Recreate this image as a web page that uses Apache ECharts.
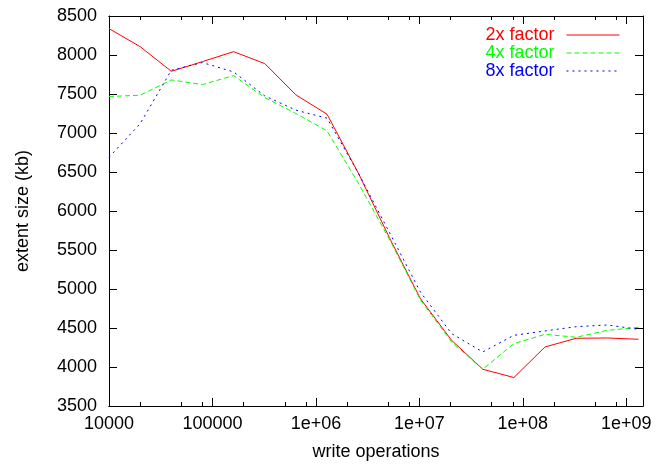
<!DOCTYPE html>
<html>
<head>
<meta charset="utf-8">
<script src="https://cdn.jsdelivr.net/npm/echarts@6/dist/echarts.min.js"></script>
<style>
  html, body { margin: 0; padding: 0; background: #fff; }
  #chart { width: 663px; height: 466px; }
</style>
</head>
<body>
<div id="chart"></div>
<script>
// Number of write operations at each measurement (doubling steps)
var writeOps = [10000, 20000, 40000, 80000, 160000, 320000, 640000, 1280000,
  2560000, 5120000, 10240000, 20480000, 40960000, 81920000, 163840000,
  327680000, 655360000, 1310720000];

// Extent size (kb) for each growth factor
var factor2x = [8338, 8107, 7791, 7915, 8043, 7890, 7489, 7241,
  6490, 5660, 4875, 4342, 3971, 3865, 4257, 4368, 4372, 4355];
var factor4x = [7468, 7484, 7680, 7621, 7736, 7455, 7250, 7028,
  6360, 5640, 4860, 4321, 3971, 4300, 4419, 4381, 4470, 4508];
var factor8x = [6688, 7120, 7804, 7903, 7783, 7476, 7293, 7190,
  6490, 5728, 4960, 4428, 4193, 4406, 4462, 4517, 4539, 4483];

var seriesNames = ['2x factor', '4x factor', '8x factor'];

// Axis ticks
var xMajorTicks = [1e4, 1e5, 1e6, 1e7, 1e8, 1e9];
var xMinorTicks = [2e4, 5e4, 8e4, 2e5, 5e5, 8e5, 2e6, 5e6, 8e6,
  2e7, 5e7, 8e7, 2e8, 5e8, 8e8];
var xMin = 1e4, xMax = 1.45e9;
var yMin = 3500, yMax = 8500, yStep = 500;

function pairs(xs, ys) {
  return xs.map(function (x, i) { return [x, ys[i]]; });
}

function xLabel(v) {
  var e = Math.round(Math.log10(v));
  if (e <= 5) return String(Math.round(v));
  return '1e+' + (e < 10 ? '0' + e : e);
}

var FONT = 'Liberation Sans, Arial, Helvetica, sans-serif';
var black = '#000';

function xAxisDef(pos, ticks, len, withLabels) {
  var ax = {
    type: 'log', logBase: 10, min: xMin, max: xMax, position: pos,
    axisLine: { show: true, onZero: false, lineStyle: { color: black, width: 1 } },
    axisTick: { show: true, inside: true, length: len, customValues: ticks,
      lineStyle: { color: black, width: 1 } },
    axisLabel: { show: withLabels, customValues: ticks, formatter: xLabel,
      color: black, fontSize: 18, fontFamily: FONT, margin: 9 },
    splitLine: { show: false },
    minorTick: { show: false }
  };
  if (withLabels) {
    ax.name = 'write operations';
    ax.nameLocation = 'middle';
    ax.nameGap = 37;
    ax.nameTextStyle = { color: black, fontSize: 18, fontFamily: FONT };
  }
  return ax;
}

function yAxisDef(pos, withLabels) {
  var ax = {
    type: 'value', min: yMin, max: yMax, interval: yStep, position: pos,
    axisLine: { show: true, onZero: false, lineStyle: { color: black, width: 1 } },
    axisTick: { show: true, inside: true, length: 8, lineStyle: { color: black, width: 1 } },
    axisLabel: { show: withLabels, color: black, fontSize: 18, fontFamily: FONT, margin: 12,
      formatter: function (v) { return String(v); } },
    splitLine: { show: false }
  };
  if (withLabels) {
    ax.name = 'extent size (kb)';
    ax.nameLocation = 'middle';
    ax.nameGap = 77;
    ax.nameTextStyle = { color: black, fontSize: 18, fontFamily: FONT };
  }
  return ax;
}

var colors = ['#ff0000', '#00ff00', '#0000ff'];
var dashes = ['solid', [5, 3], [2, 4]];
var values = [factor2x, factor4x, factor8x];

var series = seriesNames.map(function (name, i) {
  return {
    name: name, type: 'line', xAxisIndex: 0, yAxisIndex: 0,
    data: pairs(writeOps, values[i]),
    symbol: 'none', showSymbol: false, smooth: false,
    lineStyle: { color: colors[i], width: 1, type: dashes[i] },
    itemStyle: { color: colors[i] },
    emphasis: { disabled: true }
  };
});

var chart = echarts.init(document.getElementById('chart'), null, { renderer: 'canvas' });
chart.setOption({
  animation: false,
  backgroundColor: '#fff',
  grid: { left: 109, right: 20, top: 16, bottom: 58, containLabel: false },
  legend: {
    orient: 'vertical', align: 'right', right: 38, top: 21,
    itemWidth: 53, itemHeight: 14, itemGap: 0,
    selectedMode: false,
    lineStyle: { width: 1 },
    // keep only the line sample in each key entry
    itemStyle: { color: 'rgba(0,0,0,0)', borderColor: 'rgba(0,0,0,0)', borderWidth: 0, opacity: 0 },
    data: seriesNames.map(function (n, i) {
      return { name: n, textStyle: { color: colors[i], fontSize: 18, fontFamily: FONT, padding: [0, 7, 0, 0] } };
    })
  },
  xAxis: [
    xAxisDef('bottom', xMajorTicks, 8, true),
    xAxisDef('bottom', xMinorTicks, 4, false),
    xAxisDef('top', xMajorTicks, 8, false),
    xAxisDef('top', xMinorTicks, 4, false)
  ],
  yAxis: [
    yAxisDef('left', true),
    yAxisDef('right', false)
  ],
  series: series
});
</script>
</body>
</html>
